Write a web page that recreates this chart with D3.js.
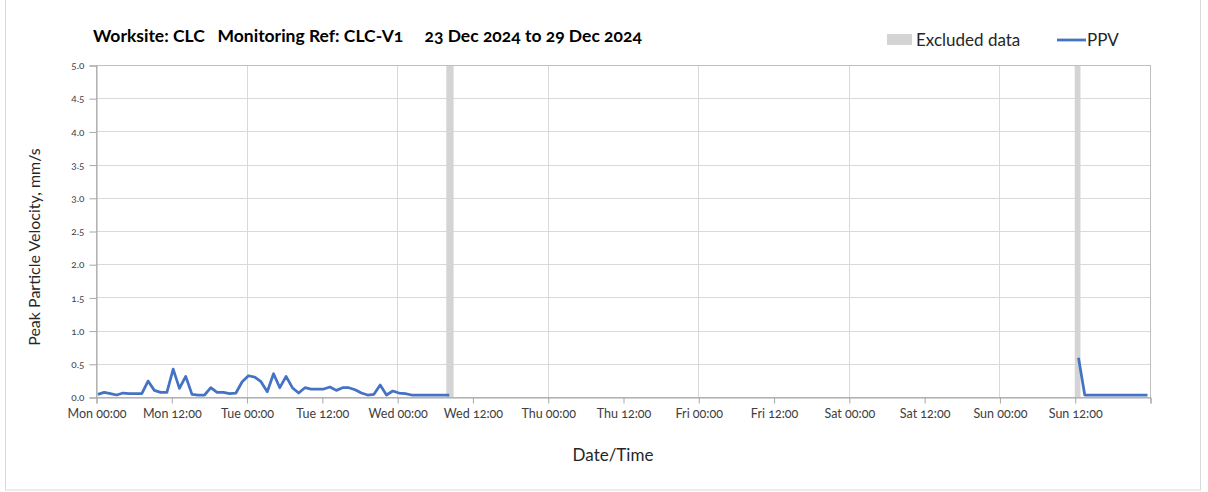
<!DOCTYPE html>
<html><head><meta charset="utf-8">
<script src="https://cdn.jsdelivr.net/npm/d3@7"></script>
<style>
html,body{margin:0;padding:0;background:#fff;}
svg{display:block;font-family:Lato, "Open Sans", sans-serif;}
</style></head>
<body><svg id="chart" width="1208" height="492"></svg>
<script>
// ---- data ----
const titleText = "Worksite: CLC   Monitoring Ref: CLC-V1     23 Dec 2024 to 29 Dec 2024";
const xStart = "2024-12-23T00:00:00Z";
const xEnd = "2024-12-30T00:00:00Z";
const yTicks = [0, 0.5, 1, 1.5, 2, 2.5, 3, 3.5, 4, 4.5, 5];
const excludedStarts = ["2024-12-25T07:50:00Z", "2024-12-29T12:00:00Z"];
const excludedEnds = ["2024-12-25T09:00:00Z", "2024-12-29T12:55:00Z"];
// segment 1: hourly readings from Mon 00:18
const seg1Start = "2024-12-23T00:18:00Z";
const seg1Values = [0.04,0.07,0.05,0.03,0.06,0.05,0.05,0.05,0.24,0.10,0.07,0.07,0.42,0.13,0.31,0.04,0.03,0.03,0.14,0.07,0.07,0.05,0.06,0.23,
  0.32,0.30,0.23,0.08,0.35,0.14,0.31,0.14,0.06,0.14,0.12,0.12,0.12,0.15,0.10,0.14,0.14,0.11,0.06,0.03,0.04,0.18,0.03,0.09,
  0.06,0.05,0.03,0.03,0.03,0.03,0.03,0.03,0.03];
// segment 2: hourly readings from Sun 12:36
const seg2Start = "2024-12-29T12:36:00Z";
const seg2Values = [0.59,0.03,0.03,0.03,0.03,0.03,0.03,0.03,0.03,0.03,0.03,0.03];

// ---- layout ----
const svg = d3.select("#chart");
const M = {left:96, right:1150, top:65, bottom:397};
const x = d3.scaleUtc().domain([new Date(xStart), new Date(xEnd)]).range([M.left, M.right]);
const y = d3.scaleLinear().domain([0, 5]).range([M.bottom, M.top]);
const HOUR = 3600000;

function buildSeg(start, vals){
  const t0 = new Date(start).getTime();
  return vals.map((v,i)=>({t:new Date(t0 + i*HOUR), v}));
}
const seg1 = buildSeg(seg1Start, seg1Values);
const seg2 = buildSeg(seg2Start, seg2Values);

// outer frame
svg.append("rect").attr("x",5.5).attr("y",-1).attr("width",1195).attr("height",491)
  .attr("fill","none").attr("stroke","#d9d9d9");

// horizontal grid
svg.append("g").selectAll("line").data(yTicks).join("line")
  .attr("x1",M.left).attr("x2",M.right)
  .attr("y1",d=>Math.round(y(d))+0.5).attr("y2",d=>Math.round(y(d))+0.5)
  .attr("stroke","#d9d9d9").attr("stroke-width",1);

// vertical grid at day boundaries
const dayTicks = x.ticks(d3.utcDay.every(1));
svg.append("g").selectAll("line").data(dayTicks).join("line")
  .attr("x1",d=>Math.round(x(d))+0.5).attr("x2",d=>Math.round(x(d))+0.5)
  .attr("y1",M.top).attr("y2",M.bottom)
  .attr("stroke","#d9d9d9").attr("stroke-width",1);

// excluded bands
svg.append("g").selectAll("rect").data(excludedStarts.map((s,i)=>[new Date(s), new Date(excludedEnds[i])])).join("rect")
  .attr("x",d=>x(d[0])).attr("width",d=>x(d[1])-x(d[0]))
  .attr("y",M.top).attr("height",M.bottom-M.top)
  .attr("fill","#d4d4d4");

// plot border
svg.append("rect").attr("x",M.left+0.5).attr("y",M.top+0.5)
  .attr("width",M.right-M.left).attr("height",M.bottom-M.top)
  .attr("fill","none").attr("stroke","#bfbfbf");

// axes
const fmt = d3.utcFormat("%a %H:%M");
const endDate = new Date(xEnd);
const xAxis = d3.axisBottom(x).ticks(d3.utcHour.every(12))
  .tickFormat(d=> +d === +endDate ? "" : fmt(d)).tickSize(6).tickPadding(6);
const gx = svg.append("g").attr("transform",`translate(0.5,${M.bottom+0.5})`).call(xAxis);
gx.select(".domain").attr("stroke","#a6a6a6");
gx.selectAll(".tick line").attr("stroke","#a6a6a6");
gx.selectAll(".tick text").attr("fill","#404040").style("font-size","12.5px").style("font-family","Lato, sans-serif")
  .style("font-variant-numeric","oldstyle-nums");

const yAxis = d3.axisLeft(y).tickValues(yTicks).tickFormat(d3.format(".1f")).tickSize(7).tickPadding(5);
const gy = svg.append("g").attr("transform",`translate(${M.left+0.5},0.5)`).call(yAxis);
gy.select(".domain").attr("stroke","#a6a6a6");
gy.selectAll(".tick line").attr("stroke","#a6a6a6");
gy.selectAll(".tick text").attr("fill","#404040").style("font-size","10px").style("font-family","Lato, sans-serif")
  .style("font-variant-numeric","oldstyle-nums");

// line
const line = d3.line().x(d=>x(d.t)).y(d=>y(d.v));
[seg1, seg2].forEach(s=>{
  svg.append("path").datum(s).attr("d",line).attr("fill","none")
    .attr("stroke","#4472c4").attr("stroke-width",2.75).attr("stroke-linejoin","round");
});

// title
svg.append("text").attr("x",93).attr("y",42).attr("fill","#000")
  .style("font-size","17.5px").style("font-weight","bold").style("white-space","pre")
  .style("font-variant-numeric","oldstyle-nums")
  .attr("xml:space","preserve").text(titleText);

// legend
svg.append("rect").attr("x",887).attr("y",34).attr("width",25).attr("height",11).attr("fill","#d4d4d4");
svg.append("text").attr("x",916).attr("y",46).attr("fill","#262626").style("font-size","17px").text("Excluded data");
svg.append("line").attr("x1",1057).attr("x2",1086).attr("y1",40).attr("y2",40).attr("stroke","#4472c4").attr("stroke-width",2.75);
svg.append("text").attr("x",1087).attr("y",46).attr("fill","#262626").style("font-size","17px").text("PPV");

// axis titles
svg.append("text").attr("transform","translate(40,247) rotate(-90)").attr("text-anchor","middle")
  .attr("fill","#262626").style("font-size","16px").text("Peak Particle Velocity, mm/s");
svg.append("text").attr("x",613).attr("y",461).attr("text-anchor","middle")
  .attr("fill","#262626").style("font-size","17px").text("Date/Time");
</script></body></html>
